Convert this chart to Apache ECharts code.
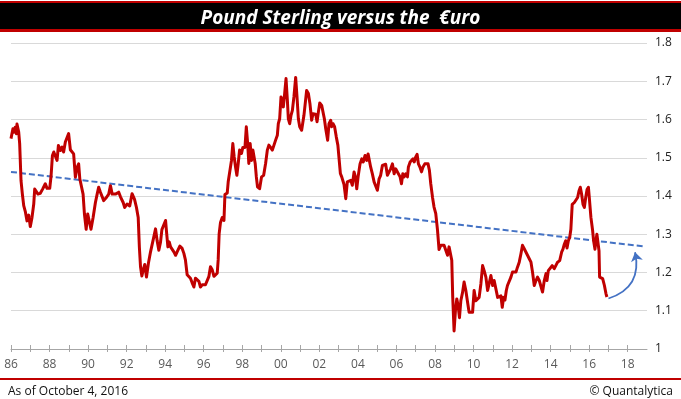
<!DOCTYPE html>
<html>
<head>
<meta charset="utf-8">
<script src="https://cdn.jsdelivr.net/npm/echarts@6/dist/echarts.min.js"></script>
<style>
  html, body { margin: 0; padding: 0; background: #fff; }
  #chart { width: 681px; height: 399px; }
</style>
</head>
<body>
<div id="chart"></div>
<script>
// GBP/EUR (decimal year, rate)
const dates = [
  1986.00, 1986.10, 1986.17, 1986.22, 1986.28, 1986.31, 1986.40, 1986.45, 1986.52, 1986.59,
  1986.66, 1986.74, 1986.83, 1986.92, 1987.00, 1987.09, 1987.18, 1987.23, 1987.31, 1987.40,
  1987.52, 1987.64, 1987.78, 1987.87, 1988.01, 1988.08, 1988.15, 1988.22, 1988.30, 1988.39,
  1988.46, 1988.56, 1988.65, 1988.73, 1988.82, 1988.91, 1988.99, 1989.08, 1989.17, 1989.25,
  1989.34, 1989.43, 1989.51, 1989.57, 1989.67, 1989.74, 1989.81, 1989.90, 1989.98, 1990.07,
  1990.15, 1990.26, 1990.38, 1990.47, 1990.55, 1990.64, 1990.73, 1990.81, 1990.95, 1991.07,
  1991.16, 1991.25, 1991.33, 1991.42, 1991.50, 1991.59, 1991.68, 1991.82, 1991.90, 1992.02,
  1992.16, 1992.28, 1992.41, 1992.51, 1992.60, 1992.66, 1992.72, 1992.79, 1992.86, 1992.94,
  1993.03, 1993.13, 1993.24, 1993.32, 1993.41, 1993.50, 1993.58, 1993.67, 1993.76, 1993.83,
  1993.93, 1994.02, 1994.07, 1994.14, 1994.21, 1994.28, 1994.36, 1994.45, 1994.54, 1994.62,
  1994.76, 1994.88, 1994.97, 1995.05, 1995.14, 1995.23, 1995.31, 1995.40, 1995.49, 1995.57,
  1995.66, 1995.75, 1995.83, 1995.92, 1996.01, 1996.09, 1996.18, 1996.27, 1996.35, 1996.44,
  1996.53, 1996.61, 1996.70, 1996.75, 1996.80, 1996.87, 1996.96, 1997.05, 1997.10, 1997.22,
  1997.27, 1997.37, 1997.44, 1997.51, 1997.58, 1997.65, 1997.72, 1997.79, 1997.86, 1997.96,
  1998.03, 1998.14, 1998.21, 1998.28, 1998.34, 1998.41, 1998.48, 1998.55, 1998.62, 1998.67,
  1998.73, 1998.79, 1998.90, 1998.97, 1999.00, 1999.11, 1999.21, 1999.30, 1999.38, 1999.47,
  1999.56, 1999.66, 1999.73, 1999.82, 1999.87, 1999.94, 2000.01, 2000.08, 2000.13, 2000.20,
  2000.27, 2000.34, 2000.39, 2000.46, 2000.53, 2000.60, 2000.68, 2000.77, 2000.84, 2000.91,
  2000.98, 2001.08, 2001.15, 2001.20, 2001.29, 2001.34, 2001.43, 2001.51, 2001.60, 2001.67,
  2001.74, 2001.81, 2001.88, 2001.95, 2002.02, 2002.12, 2002.19, 2002.26, 2002.33, 2002.43,
  2002.50, 2002.59, 2002.64, 2002.71, 2002.79, 2002.88, 2002.96, 2003.04, 2003.09, 2003.16,
  2003.28, 2003.37, 2003.45, 2003.54, 2003.63, 2003.71, 2003.80, 2003.87, 2003.94, 2004.01,
  2004.11, 2004.20, 2004.28, 2004.37, 2004.46, 2004.53, 2004.61, 2004.66, 2004.75, 2004.84,
  2004.92, 2005.01, 2005.10, 2005.18, 2005.27, 2005.36, 2005.44, 2005.53, 2005.62, 2005.70,
  2005.79, 2005.88, 2005.96, 2006.05, 2006.12, 2006.19, 2006.26, 2006.33, 2006.40, 2006.48,
  2006.57, 2006.62, 2006.71, 2006.78, 2006.86, 2006.92, 2007.00, 2007.07, 2007.14, 2007.23,
  2007.30, 2007.38, 2007.47, 2007.57, 2007.64, 2007.71, 2007.78, 2007.87, 2007.95, 2008.04,
  2008.13, 2008.21, 2008.30, 2008.39, 2008.47, 2008.56, 2008.65, 2008.73, 2008.82, 2008.87,
  2008.92, 2008.99, 2009.06, 2009.13, 2009.20, 2009.27, 2009.34, 2009.43, 2009.51, 2009.60,
  2009.69, 2009.77, 2009.86, 2009.95, 2010.03, 2010.12, 2010.21, 2010.29, 2010.38, 2010.47,
  2010.55, 2010.64, 2010.73, 2010.81, 2010.90, 2010.99, 2011.07, 2011.16, 2011.25, 2011.33,
  2011.42, 2011.49, 2011.56, 2011.63, 2011.70, 2011.76, 2011.85, 2011.94, 2012.02, 2012.11,
  2012.20, 2012.28, 2012.37, 2012.46, 2012.54, 2012.63, 2012.72, 2012.80, 2012.89, 2012.98,
  2013.06, 2013.15, 2013.24, 2013.32, 2013.41, 2013.50, 2013.58, 2013.67, 2013.76, 2013.81,
  2013.88, 2013.98, 2014.08, 2014.19, 2014.27, 2014.36, 2014.47, 2014.57, 2014.64, 2014.71,
  2014.78, 2014.85, 2014.92, 2014.99, 2015.05, 2015.12, 2015.23, 2015.31, 2015.40, 2015.47,
  2015.54, 2015.61, 2015.68, 2015.75, 2015.82, 2015.89, 2015.96, 2016.02, 2016.09, 2016.18,
  2016.23, 2016.30, 2016.35, 2016.40, 2016.46, 2016.51, 2016.54, 2016.61, 2016.70, 2016.79,
  2016.87, 2016.92
];
const rate = [
  1.550, 1.576, 1.567, 1.580, 1.563, 1.588, 1.567, 1.537, 1.440, 1.405,
  1.375, 1.360, 1.335, 1.350, 1.320, 1.344, 1.379, 1.418, 1.414, 1.405,
  1.407, 1.418, 1.432, 1.420, 1.420, 1.453, 1.506, 1.515, 1.519, 1.493,
  1.532, 1.519, 1.528, 1.515, 1.541, 1.537, 1.563, 1.521, 1.519, 1.510,
  1.449, 1.475, 1.484, 1.445, 1.440, 1.405, 1.353, 1.313, 1.353, 1.357,
  1.313, 1.344, 1.383, 1.405, 1.423, 1.410, 1.405, 1.388, 1.396, 1.405,
  1.427, 1.405, 1.405, 1.405, 1.410, 1.410, 1.398, 1.383, 1.370, 1.379,
  1.374, 1.406, 1.391, 1.370, 1.344, 1.267, 1.215, 1.191, 1.207, 1.221,
  1.188, 1.224, 1.254, 1.258, 1.293, 1.314, 1.284, 1.258, 1.280, 1.312,
  1.314, 1.336, 1.306, 1.267, 1.280, 1.267, 1.263, 1.254, 1.245, 1.254,
  1.269, 1.263, 1.250, 1.233, 1.194, 1.191, 1.185, 1.173, 1.162, 1.185,
  1.188, 1.177, 1.162, 1.168, 1.173, 1.168, 1.173, 1.190, 1.215, 1.207,
  1.190, 1.185, 1.198, 1.233, 1.301, 1.331, 1.344, 1.336, 1.404, 1.408,
  1.437, 1.441, 1.493, 1.537, 1.502, 1.476, 1.454, 1.485, 1.520, 1.511,
  1.527, 1.527, 1.581, 1.537, 1.485, 1.537, 1.493, 1.520, 1.524, 1.485,
  1.450, 1.424, 1.419, 1.415, 1.450, 1.454, 1.485, 1.520, 1.533, 1.527,
  1.520, 1.520, 1.546, 1.559, 1.589, 1.602, 1.659, 1.646, 1.633, 1.668,
  1.707, 1.650, 1.602, 1.589, 1.611, 1.624, 1.659, 1.710, 1.659, 1.602,
  1.581, 1.572, 1.567, 1.611, 1.615, 1.676, 1.668, 1.642, 1.598, 1.615,
  1.620, 1.614, 1.594, 1.620, 1.643, 1.637, 1.633, 1.602, 1.576, 1.546,
  1.589, 1.598, 1.581, 1.589, 1.581, 1.554, 1.533, 1.530, 1.459, 1.450,
  1.430, 1.393, 1.437, 1.437, 1.441, 1.428, 1.463, 1.450, 1.419, 1.450,
  1.484, 1.497, 1.489, 1.506, 1.493, 1.510, 1.515, 1.476, 1.458, 1.437,
  1.432, 1.415, 1.445, 1.454, 1.480, 1.482, 1.483, 1.454, 1.463, 1.471,
  1.484, 1.458, 1.471, 1.463, 1.467, 1.450, 1.432, 1.458, 1.450, 1.458,
  1.450, 1.476, 1.489, 1.484, 1.497, 1.489, 1.502, 1.509, 1.484, 1.474,
  1.463, 1.476, 1.484, 1.489, 1.484, 1.467, 1.432, 1.397, 1.371, 1.354,
  1.311, 1.260, 1.271, 1.268, 1.271, 1.267, 1.245, 1.267, 1.271, 1.232,
  1.135, 1.047, 1.100, 1.131, 1.113, 1.082, 1.126, 1.148, 1.175, 1.153,
  1.122, 1.096, 1.096, 1.096, 1.153, 1.126, 1.122, 1.135, 1.170, 1.218,
  1.205, 1.188, 1.153, 1.148, 1.192, 1.166, 1.179, 1.175, 1.135, 1.131,
  1.139, 1.109, 1.135, 1.128, 1.153, 1.166, 1.163, 1.188, 1.201, 1.205,
  1.201, 1.214, 1.227, 1.249, 1.271, 1.262, 1.258, 1.245, 1.236, 1.227,
  1.201, 1.166, 1.179, 1.188, 1.179, 1.175, 1.149, 1.179, 1.197, 1.179,
  1.205, 1.201, 1.218, 1.210, 1.214, 1.227, 1.231, 1.253, 1.261, 1.274,
  1.283, 1.264, 1.283, 1.292, 1.313, 1.378, 1.383, 1.381, 1.396, 1.413,
  1.423, 1.404, 1.378, 1.370, 1.396, 1.417, 1.423, 1.387, 1.344, 1.309,
  1.283, 1.261, 1.283, 1.300, 1.305, 1.257, 1.188, 1.184, 1.184, 1.166,
  1.145, 1.136
];

// dashed trend line and the curved arrow
const trendX = [1986, 2018.85];
const trendY = [1.463, 1.268];
const arrowX = [2017.0, 2018.38];
const arrowY = [1.132, 1.253];

// axis ticks / labels
const tickYears = [];
for (let y = 1986; y <= 2018; y++) tickYears.push(y);
const labelYears = tickYears.filter(y => y % 2 === 0);

const FONT = '"Open Sans", "DejaVu Sans", sans-serif';
const gridBox = { left: 11, right: 34, top: 43, bottom: 50 };

const myChart = echarts.init(document.getElementById('chart'), null, { renderer: 'canvas' });

let option = {
    animation: false,
    backgroundColor: '#fff',
    textStyle: { fontFamily: FONT },
    title: [
        {
            text: 'Pound Sterling versus the  €uro',
            left: 'center',
            top: 4,
            textStyle: { color: '#fff', fontSize: 19, fontWeight: 'bold', fontStyle: 'italic', fontFamily: FONT }
        },
        {
            text: 'As of October 4, 2016',
            left: 3,
            top: 381,
            textStyle: { color: '#111', fontSize: 12, fontWeight: 'normal', fontFamily: FONT }
        },
        {
            text: '© Quantalytica',
            right: 3,
            top: 381,
            textStyle: { color: '#111', fontSize: 12, fontWeight: 'normal', fontFamily: FONT }
        }
    ],
    graphic: [
        { type: 'rect', z: -1, shape: { x: 0, y: 1, width: 681, height: 31 }, style: { fill: '#c00000' } },
        { type: 'rect', z: -1, shape: { x: 0, y: 3, width: 681, height: 26 }, style: { fill: '#000' } },
        { type: 'rect', z: -1, shape: { x: 0, y: 378, width: 681, height: 2 }, style: { fill: '#c00000' } }
    ],
    grid: [
        Object.assign({}, gridBox),
        Object.assign({}, gridBox)
    ],
    xAxis: [
        {
            type: 'value',
            gridIndex: 0,
            min: 1986,
            max: 2019,
            splitLine: { show: false },
            axisLine: { show: true, lineStyle: { color: '#a6a6a6', width: 1 } },
            axisTick: { show: true, length: 3, customValues: tickYears, lineStyle: { color: '#a6a6a6' } },
            axisLabel: {
                margin: 10,
                customValues: labelYears,
                color: '#595959',
                fontSize: 12,
                fontFamily: FONT,
                formatter: v => String(v % 100).padStart(2, '0')
            }
        },
        {
            // inner half of the crossing tick marks
            type: 'value',
            gridIndex: 1,
            min: 1986,
            max: 2019,
            splitLine: { show: false },
            axisLine: { show: false },
            axisTick: { show: true, inside: true, length: 4, customValues: tickYears, lineStyle: { color: '#a6a6a6' } },
            axisLabel: { show: false }
        }
    ],
    yAxis: [
        {
            type: 'value',
            gridIndex: 0,
            position: 'right',
            min: 1,
            max: 1.8,
            interval: 0.1,
            axisLine: { show: false },
            axisTick: { show: false },
            splitLine: { lineStyle: { color: '#d9d9d9', width: 1 } },
            axisLabel: {
                margin: 8,
                color: '#222',
                fontSize: 12,
                fontFamily: FONT,
                formatter: v => String(Math.round(v * 10) / 10)
            }
        },
        {
            type: 'value',
            gridIndex: 1,
            min: 1,
            max: 1.8,
            show: false
        }
    ],
    series: [
        {
            name: 'trend',
            type: 'line',
            xAxisIndex: 0,
            yAxisIndex: 0,
            data: trendX.map((x, i) => [x, trendY[i]]),
            showSymbol: false,
            silent: true,
            z: 2,
            lineStyle: { color: '#4472c4', width: 2, type: [6, 3] }
        },
        {
            name: 'GBP/EUR',
            type: 'line',
            xAxisIndex: 0,
            yAxisIndex: 0,
            data: dates.map((x, i) => [x, rate[i]]),
            showSymbol: false,
            z: 3,
            lineStyle: { color: '#c00000', width: 3, join: 'round' }
        },
        {
            name: 'arrow',
            type: 'lines',
            coordinateSystem: 'cartesian2d',
            xAxisIndex: 0,
            yAxisIndex: 0,
            z: 4,
            symbol: ['none', 'arrow'],
            symbolSize: 9,
            lineStyle: { color: '#4472c4', width: 1.8, opacity: 1, curveness: -0.45 },
            data: [{ coords: [[arrowX[0], arrowY[0]], [arrowX[1], arrowY[1]]] }]
        }
    ]
};

myChart.setOption(option);
</script>
</body>
</html>
